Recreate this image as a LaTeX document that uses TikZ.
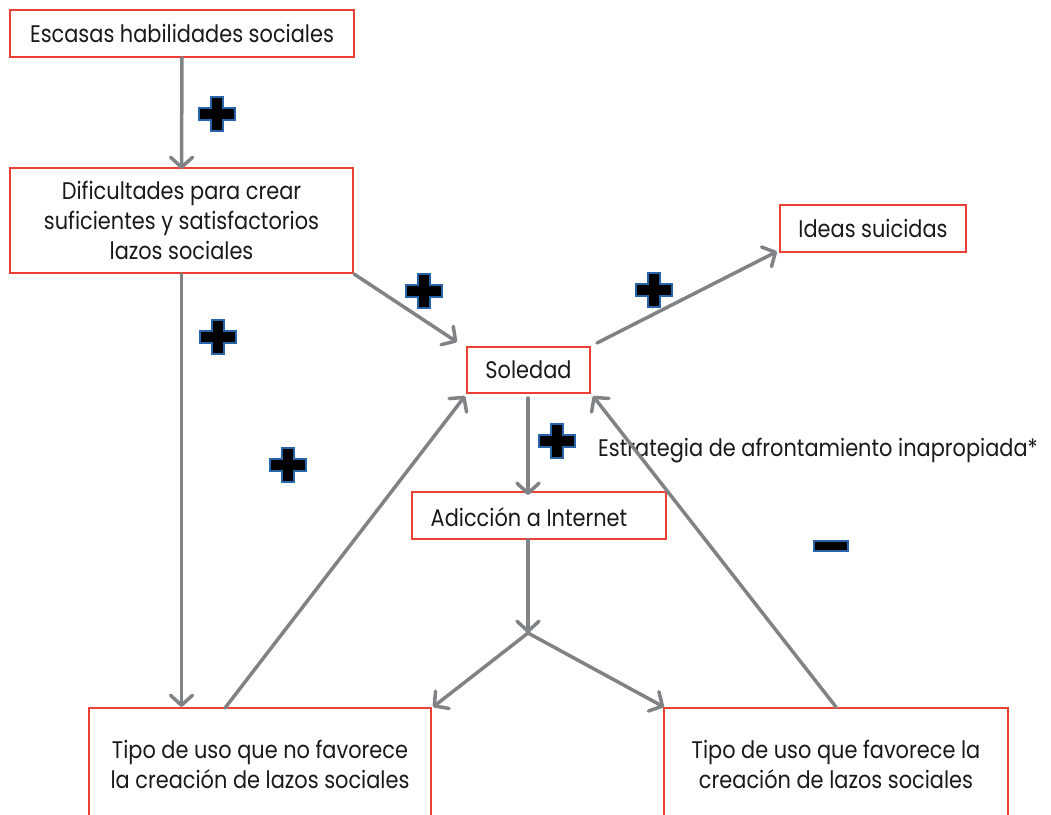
\documentclass[tikz,border=0pt]{standalone}
\usepackage{fontspec}
\setmainfont{Poppins}[FakeStretch=0.87]
\usetikzlibrary{arrows.meta}
\definecolor{boxred}{RGB}{235,64,52}
\definecolor{arrgray}{RGB}{128,131,134}
\definecolor{plusblue}{RGB}{40,100,170}
\tikzset{
  box/.style={draw=boxred, line width=2pt, align=center, inner sep=0pt,
    font=\fontsize{24}{30}\selectfont, text=black!90},
  lbl/.style={inner sep=0pt, font=\fontsize{24}{30}\selectfont, text=black!90},
  conn/.style={draw=arrgray, line width=3.5pt, line cap=round},
  arr/.style={conn, -{Straight Barb[length=10pt,width=22pt,line width=3.5pt,round]}},
  plusmark/.pic={
    \filldraw[fill=black, draw=plusblue, line width=1.4pt, line join=miter]
      (-6,-17) -- (6,-17) -- (6,-6) -- (18,-6) -- (18,6) -- (6,6) -- (6,17)
      -- (-6,17) -- (-6,6) -- (-18,6) -- (-18,-6) -- (-6,-6) -- cycle;
  }
}
\begin{document}
\begin{tikzpicture}[x=1pt,y=-1pt]
\useasboundingbox (0,0) rectangle (1051,814);
\clip (0,0) rectangle (1051,814);

% boxes
\node[box, minimum width=344pt, minimum height=47pt] (esc) at (182,33) {Escasas habilidades sociales};
\node[box, minimum width=343pt, minimum height=105pt] (dif) at (181.5,220.5)
  {Dificultades para crear\\suficientes y satisfactorios\\lazos sociales};
\node[box, minimum width=186pt, minimum height=47pt] (ide) at (873,228) {Ideas suicidas};
\node[box, minimum width=123pt, minimum height=46pt] (sol) at (528.5,370) {Soledad};
\node[box, minimum width=254pt, minimum height=47pt] (adi) at (539,515.5) {};
\node[lbl] (aditext) at (529,517) {Adicción a Internet};
\node[box, minimum width=342pt, minimum height=112pt] (tno) at (260,764)
  {Tipo de uso que no favorece\\la creación de lazos sociales};
\node[box, minimum width=344pt, minimum height=112pt] (tfa) at (836,764)
  {Tipo de uso que favorece la\\creación de lazos sociales};

\node[lbl, anchor=west] (estr) at (598,451) {Estrategia de afrontamiento inapropiada*};

% coordinates
\coordinate (j) at (528,633);
\coordinate (solne) at (597,343);
\coordinate (tnostart) at (225,708);

% connectors
\draw[arr] (esc.south) -- ([yshift=-2pt]dif.north);
\draw[arr] (dif.south east) -- ([shift={(-9,-4)}]sol.north west);
\draw[arr] (dif.south) -- (dif.south |- tno.north);
\draw[arr] (solne) -- ([shift={(-2,-1)}]ide.south west);
\draw[arr, shorten <=4pt] (j |- sol.south) -- ([yshift=-4pt]j |- adi.north);
\draw[arr] (j |- adi.south) -- (j);
\draw[arr] (j) -- ([xshift=1pt]tno.north east);
\draw[arr] (j) -- ([xshift=1pt]tfa.north west);
\draw[arr] (tnostart) -- ([shift={(-1,2)}]sol.south west);
\draw[arr] (tfa.north) -- ([shift={(2,2)}]sol.south east);

% signs
\pic at (217,114) {plusmark};
\pic at (424,291) {plusmark};
\pic at (218,337) {plusmark};
\pic at (654,290) {plusmark};
\pic at (288,465) {plusmark};
\pic at (557,441) {plusmark};
\filldraw[fill=black, draw=plusblue, line width=1.4pt] (814,541) rectangle (848,551);
\end{tikzpicture}
\end{document}
